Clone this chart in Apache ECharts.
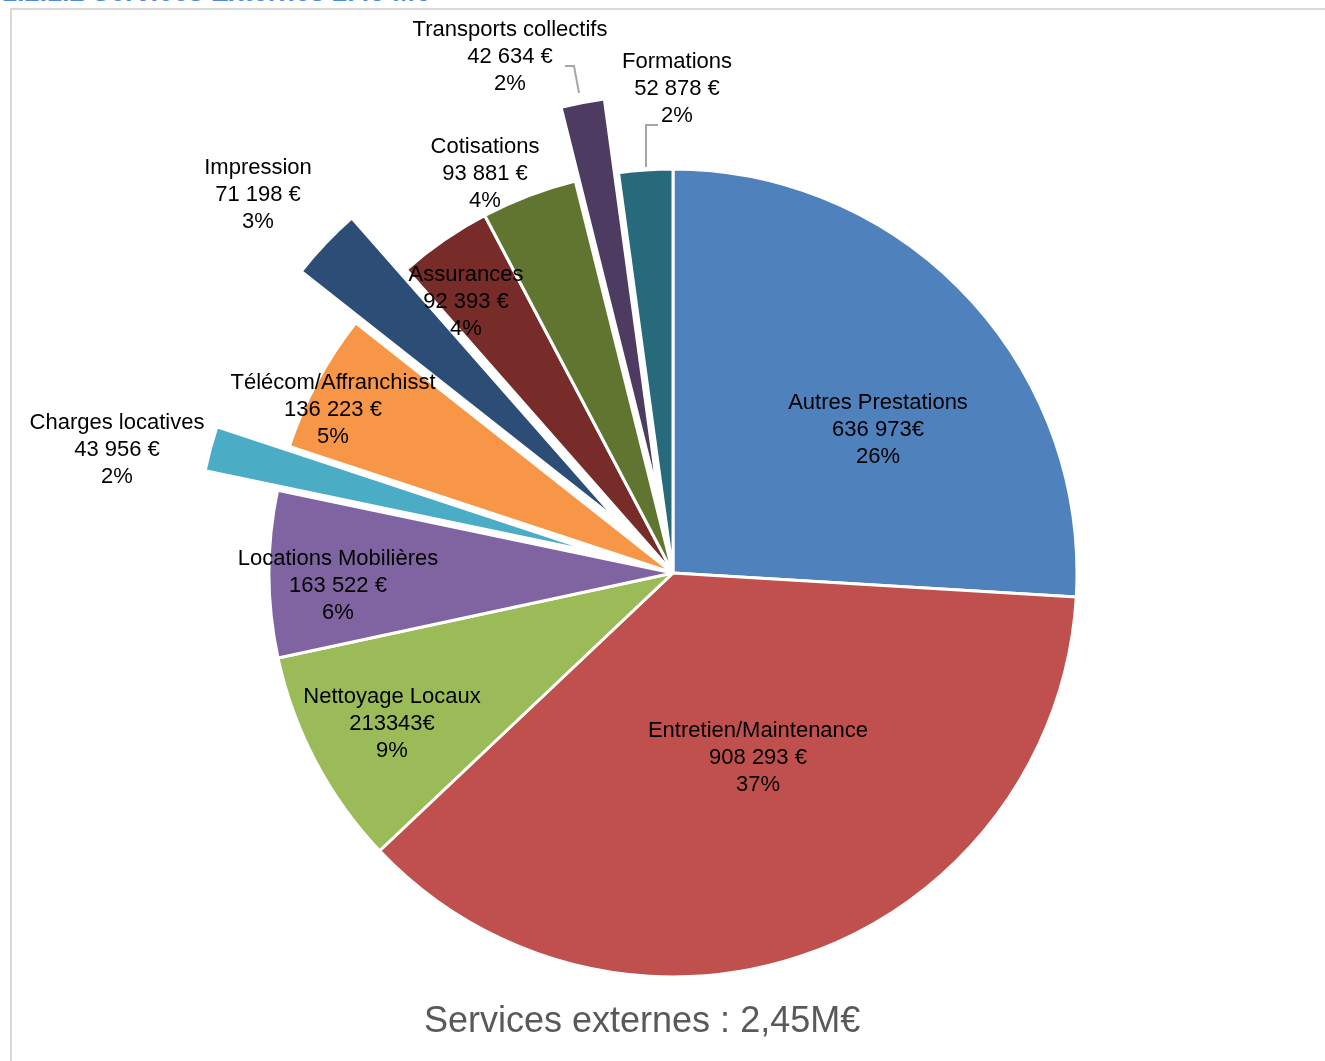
<!DOCTYPE html>
<html>
<head>
<meta charset="utf-8">
<script src="https://cdn.jsdelivr.net/npm/echarts@6/dist/echarts.min.js"></script>
<style>
  body { margin: 0; background: #fff; overflow: hidden; }
  #heading {
    position: absolute; left: 2px; top: -23px;
    font: bold 27px "Liberation Sans", Arial, sans-serif; color: #4f8bd6;
    white-space: nowrap;
  }
  #frame {
    position: absolute; left: 10px; top: 8px; width: 1340px; height: 1080px;
    border: 2px solid #d9d9d9; box-sizing: border-box;
  }
  #main { position: absolute; left: 0; top: 0; width: 1325px; height: 1061px; }
</style>
</head>
<body>
<div id="heading">1.2.1.2 Services Externes 2.45 M€</div>
<div id="frame"></div>
<div id="main"></div>
<script>
// postes de dépenses, sens horaire depuis midi
const categories = [
  "Autres Prestations", "Entretien/Maintenance", "Nettoyage Locaux",
  "Locations Mobilières", "Charges locatives", "Télécom/Affranchisst",
  "Impression", "Assurances", "Cotisations", "Transports collectifs", "Formations"
];
const values = [636973, 908293, 213343, 163522, 43956, 136223, 71198, 92393, 93881, 42634, 52878];
// texte des montants tel qu'affiché
const valueText = [
  "636 973€", "908 293 €", "213343€", "163 522 €", "43 956 €", "136 223 €",
  "71 198 €", "92 393 €", "93 881 €", "42 634 €", "52 878 €"
];
// parts détachées
const exploded = [false, false, false, false, true, false, true, false, false, true, false];

const colors = ["#4f81bd", "#c0504d", "#9bbb59", "#8064a2", "#4bacc6", "#f79646",
                "#2c4d75", "#772c2a", "#5f7530", "#4d3b62", "#276a7c"];

// centre du camembert et position des étiquettes (relatives au centre)
const CX = 673, CY = 573;
const labelPos = [
  [205, -143], [85, 185], [-281, 151], [-335, 13], [-556, -123], [-340, -163],
  [-415, -378], [-207, -271], [-188, -399], [-163, -516], [4, -484]
];
const leaderLines = {
  9: [[-94, -480], [-99, -507], [-108, -507]],
  10: [[-27, -406], [-27, -448], [-15, -448]]
};

const chart = echarts.init(document.getElementById("main"));

const pieBase = {
  type: "pie",
  center: [CX, CY],
  radius: 404,
  startAngle: 90,
  clockwise: true,
  percentPrecision: 0,
  avoidLabelOverlap: false,
  emphasis: { disabled: true }
};

chart.setOption({
  animation: false,
  title: {
    text: "Services externes : 2,45M€",
    left: 424, top: 1004, padding: 0,
    textStyle: { color: "#595959", fontSize: 36, fontWeight: "normal", fontFamily: "Liberation Sans" }
  },
  series: [
    // parts
    Object.assign({}, pieBase, {
      selectedMode: "multiple",
      selectedOffset: 75,
      itemStyle: { borderColor: "#fff", borderWidth: 3 },
      select: { itemStyle: { borderColor: "#fff", borderWidth: 3 } },
      label: { show: false },
      labelLine: { show: false },
      data: categories.map((name, i) => ({
        name: name,
        value: values[i],
        selected: exploded[i],
        itemStyle: { color: colors[i] }
      }))
    }),
    // étiquettes (même données, sans détachement)
    Object.assign({}, pieBase, {
      silent: true,
      z: 3,
      itemStyle: { color: "rgba(0,0,0,0)", borderWidth: 0 },
      label: {
        show: true,
        position: "outside",
        color: "#000",
        fontFamily: "Liberation Sans",
        fontSize: 22,
        lineHeight: 27,
        align: "center",
        formatter: (p) => p.name + "\n" + valueText[p.dataIndex] + "\n" + p.percent + "%"
      },
      labelLine: { show: false, lineStyle: { color: "#a6a6a6", width: 2 } },
      labelLayout: (p) => {
        const i = p.dataIndex;
        const out = {
          x: CX + labelPos[i][0],
          y: CY + labelPos[i][1],
          align: "center",
          verticalAlign: "middle"
        };
        if (leaderLines[i]) {
          out.labelLinePoints = leaderLines[i].map((q) => [CX + q[0], CY + q[1]]);
        }
        return out;
      },
      data: categories.map((name, i) => ({
        name: name,
        value: values[i],
        labelLine: { show: !!leaderLines[i], length: 10, length2: 10 }
      }))
    })
  ]
});
</script>
</body>
</html>
